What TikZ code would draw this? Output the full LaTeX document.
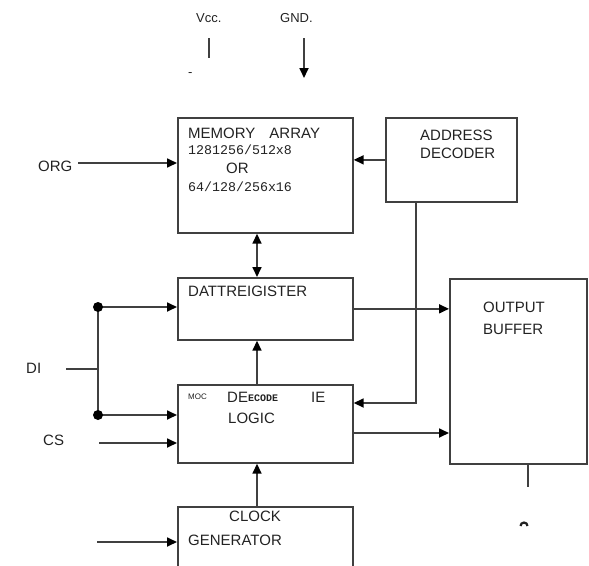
\documentclass[tikz,border=0pt]{standalone}
\usepackage{fontspec}
\setmainfont{Liberation Sans}
\setmonofont{Liberation Mono}
\usetikzlibrary{arrows.meta}
\definecolor{linegray}{HTML}{404040}
\definecolor{textdark}{HTML}{222222}
\begin{document}
\begin{tikzpicture}[x=1pt,y=-1pt,
  box/.style={draw=linegray,line width=1.7pt,rectangle,anchor=north west,inner sep=0pt},
  wire/.style={draw=linegray,line width=1.7pt},
  tip/.style={Triangle[length=10pt,width=9pt,color=black]},
  arr/.style={wire,-{Triangle[length=10pt,width=9pt,color=black]}},
  darr/.style={wire,{Triangle[length=10pt,width=9pt,color=black]}-{Triangle[length=10pt,width=9pt,color=black]}},
  lbl/.style={font=\fontsize{15}{17}\selectfont,text=textdark,inner sep=0pt,anchor=west},
  slbl/.style={font=\fontsize{13}{15}\selectfont,text=textdark,inner sep=0pt,anchor=west},
  mlbl/.style={font=\ttfamily\fontsize{13.3}{15}\selectfont,text=textdark,inner sep=0pt,anchor=west},
  dot/.style={fill=black}]
\useasboundingbox (0,0) rectangle (589,565);
\clip (0,0) rectangle (589,565);

% boxes
\node[box,minimum width=175pt,minimum height=115pt] (mem) at (177,117) {};
\node[box,minimum width=131pt,minimum height=84pt] (addr) at (385,117) {};
\node[box,minimum width=175pt,minimum height=62pt] (dreg) at (177,277) {};
\node[box,minimum width=175pt,minimum height=78pt] (logic) at (177,384) {};
\node[box,minimum width=137pt,minimum height=185pt] (out) at (449,278) {};
\node[box,minimum width=175pt,minimum height=75pt] (clock) at (177,506) {};

% texts
\node[slbl] (tvcc) at (196,18) {Vcc.};
\node[slbl] (tgnd) at (280,18) {GND.};
\node[slbl] (tplus) at (188,75) {-};
\node[lbl] (torg) at (38,166) {ORG};
\node[lbl] (tdi) at (26,368) {DI};
\node[lbl] (tcs) at (43,440) {CS};

\node[lbl] (tmem1) at (188,133) {MEMORY\hspace{14pt}ARRAY};
\node[mlbl] (tmem2) at (188,150) {1281256/512x8};
\node[lbl] (tmem3) at (226,168) {OR};
\node[mlbl] (tmem4) at (188,187) {64/128/256x16};

\node[lbl] (taddr1) at (420,135) {ADDRESS};
\node[lbl] (taddr2) at (420,153) {DECODER};

\node[lbl] (tdreg) at (188,291) {DATTREIGISTER};

\node[font=\fontsize{8}{9}\selectfont,text=textdark,inner sep=0pt,anchor=west] (tlog1) at (188,397) {MOC};
\node[lbl] (tlog2) at (227,397) {DE};
\node[font=\ttfamily\bfseries\fontsize{10}{12}\selectfont,text=textdark,inner sep=0pt,anchor=west] (tlog3) at (248,398) {ECODE};
\node[lbl] (tlog4) at (311,397) {IE};
\node[lbl] (tlog5) at (228,418) {LOGIC};

\node[lbl] (tout1) at (483,307) {OUTPUT};
\node[lbl] (tout2) at (483,329) {BUFFER};

\node[lbl] (tclk1) at (229,516) {CLOCK};
\node[lbl] (tclk2) at (188,540) {GENERATOR};

% coordinates
\coordinate (v1) at (209,38);
\coordinate (v2) at (209,58);
\coordinate (g1) at (304,38);
\coordinate (g2) at (304,78);
\coordinate (orgS) at (78,163);
\coordinate (cx) at (257,0);
\coordinate (abend) at (416,403);
\coordinate (d1) at (98,307);
\coordinate (d2) at (98,415);
\coordinate (diS) at (66,369);
\coordinate (csS) at (99,443);
\coordinate (clkS) at (97,542);
\coordinate (ly) at (0,433);
\coordinate (ob) at (528,487);

% connectors
\draw[wire] (v1) -- (v2);
\draw[arr] (g1) -- (g2);
\draw[arr] (orgS) -- (orgS -| mem.west);
\draw[arr] (addr.west) -- (addr.west -| mem.east);
\draw[arr] (abend |- addr.south) -- (abend) -- (abend -| logic.east);
\draw[darr] (cx |- mem.south) -- (cx |- dreg.north);
\draw[arr] (dreg.east) -- (dreg.east -| out.west);
\draw[arr] (ly -| logic.east) -- (ly -| out.west);
\draw[arr] (cx |- logic.north) -- (cx |- dreg.south);
\draw[arr] (cx |- clock.north) -- (cx |- logic.south);
\draw[wire] (d1) -- (d2);
\draw[wire] (diS) -- (diS -| d1);
\draw[arr] (d1) -- (d1 -| dreg.west);
\draw[arr] (d2) -- (d2 -| logic.west);
\fill[dot] (d1) circle (5pt);
\fill[dot] (d2) circle (5pt);
\draw[arr] (csS) -- (csS -| logic.west);
\draw[arr] (clkS) -- (clkS -| clock.west);
\draw[wire] (ob |- out.south) -- (ob);
\draw[line width=2.2pt,textdark] (520.5,526) arc (180:360:3.5);
\end{tikzpicture}
\end{document}
